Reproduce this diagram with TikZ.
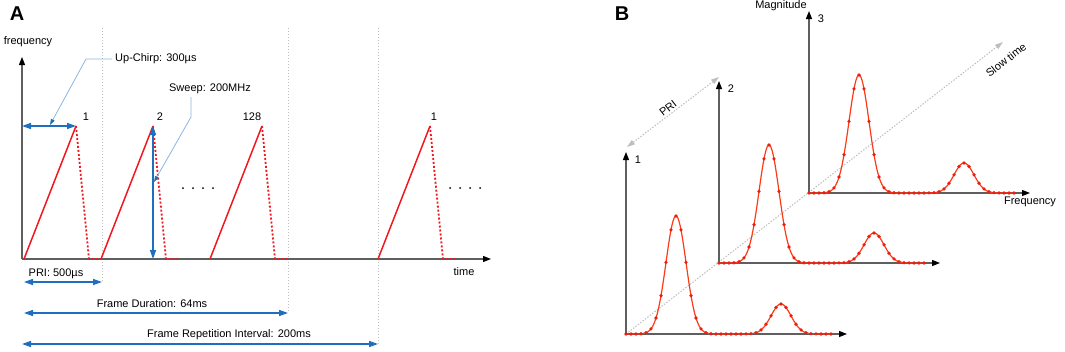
\documentclass[tikz,border=0pt]{standalone}
\usepackage{fontspec}
\setmainfont{Liberation Sans}
\usepackage{xcolor}
\usepackage{tikz}
\usetikzlibrary{arrows.meta,calc}
\definecolor{chirprot}{RGB}{240,24,32}
\definecolor{kurvenrot}{RGB}{252,58,22}
\definecolor{punktrot}{RGB}{235,30,15}
\definecolor{pfeilblau}{RGB}{30,112,190}
\definecolor{hinweisblau}{RGB}{140,182,224}
\definecolor{achsgrau}{RGB}{95,95,95}
\definecolor{hilfsgrau}{RGB}{190,190,190}
% ein Chirp: Anstieg, Abfall und Pause
\newcommand{\Chirp}[2]{%
  \coordinate (#2-a) at (#1,259);
  \coordinate (#2-s) at ($(#2-a)+(52,-133)$);
  \coordinate (#2-f) at ($(#2-a)+(65,0)$);
  \coordinate (#2-e) at ($(#2-a)+(77,0)$);
  \draw[chirp] (#2-a) -- (#2-s);
  \draw[chirp,pause] (#2-s) -- (#2-f) -- (#2-e);}
% ein Spektrum mit Achsen und Abtastpunkten
\newcommand{\Spektrum}[4]{%
  \begin{scope}[shift={(#1,#2)}]
    \coordinate (#4-o) at (0,0);
    \coordinate (#4-y) at (0,-182);
    \coordinate (#4-x) at (221,0);
    \draw[achse] (#4-o) -- (#4-y);
    \draw[achse] (#4-o) -- (#4-x);
    \node (#4-nr) at (12,-174) {#3};
    \draw[kurve] plot[domain=0:205,samples=206] (\x,{-spek(\x)});
    \foreach \p in {0,5,...,205}
      \fill[punktrot] (\p,{-spek(\p)}) circle (1.8pt);
  \end{scope}}

\begin{document}
\begin{tikzpicture}[x=1pt,y=-1pt,
  every node/.style={font=\fontsize{11}{13}\selectfont,inner sep=0pt},
  declare function={spek(\u)=118*exp(max(-12,-0.5*((\u-50)/10)^2))+30*exp(max(-12,-0.5*((\u-155)/10)^2));},
  achse/.style={draw=achsgrau,line width=1.3pt,-{Triangle[length=8pt,width=6pt,color=black]}},
  chirp/.style={draw=chirprot,line width=1.5pt},
  pause/.style={line width=1.8pt,dash pattern=on 2pt off 2pt},
  mass/.style={draw=pfeilblau,line width=1.4pt,{Triangle[length=9pt,width=6pt]}-{Triangle[length=9pt,width=6pt]}},
  hinweis/.style={draw=hinweisblau,line width=0.8pt,-{Triangle[length=6pt,width=4pt,color=pfeilblau]}},
  raster/.style={draw=hilfsgrau,line width=0.8pt,dash pattern=on 1pt off 2pt},
  hilfspfeil/.style={draw=hilfsgrau,line width=1pt,dash pattern=on 1.5pt off 1.5pt,{Triangle[length=8pt,width=5pt]}-{Triangle[length=8pt,width=5pt]}},
  zeitpfeil/.style={hilfspfeil,{}-{Triangle[length=8pt,width=5pt]}},
  kurve/.style={draw=kurvenrot,line width=1.2pt}]
  \useasboundingbox (0,0) rectangle (1065,351);

  % Teil A: Chirp-Folge
  \node (A) at (17,14) {\bfseries\fontsize{20}{24}\selectfont A};
  \node (freq) at (28,42) {frequency};
  \node (zeit) at (464,272) {time};
  % Rasterlinien
  \coordinate (l1o) at (102,28);  \coordinate (l1u) at (102,282);
  \coordinate (l2o) at (288,28);  \coordinate (l2u) at (288,313);
  \coordinate (l3o) at (378,28);  \coordinate (l3u) at (378,344);
  \draw[raster] (l1o) -- (l1u);
  \draw[raster] (l2o) -- (l2u);
  \draw[raster] (l3o) -- (l3u);
  % Achsen
  \coordinate (ursprung) at (22,259);
  \coordinate (fspitze) at (22,57);
  \coordinate (tspitze) at (491,259);
  \draw[achse] (ursprung) -- (fspitze);
  \draw[achse] (ursprung) -- (tspitze);
  % Chirps
  \Chirp{24}{c1}
  \Chirp{101}{c2}
  \Chirp{210}{c128}
  \Chirp{378}{cn}
  \node (n1) at (86,117) {1};
  \node (n2) at (160,117) {2};
  \node (n128) at (252,117) {128};
  \node (nn) at (434,117) {1};
  \foreach \p in {183,193,203,213,450,460,470,480}
    \fill (\p,188) circle (1pt);
  % Up-Chirp und Sweep
  \coordinate (uc-l) at (22,126);
  \draw[mass] (uc-l) -- (c1-s);
  \draw[mass] (c2-s) -- (c2-s |- ursprung);
  \node[anchor=west] (uctext) at (115,59) {Up-Chirp: 300µs};
  \coordinate (uc-knick) at (86,59);
  \coordinate (uc-ziel) at (50,125);
  \draw[hinweis] ($(uctext.west)+(-3,0)$) -- (uc-knick) -- (uc-ziel);
  \node (swtext) at (210,89) {Sweep: 200MHz};
  \coordinate (sw-oben) at (191,97);
  \coordinate (sw-knick) at (191,117);
  \coordinate (sw-ziel) at (154,182);
  \draw[hinweis] (sw-oben) -- (sw-knick) -- (sw-ziel);
  % Zeitintervalle
  \node (pritext) at (56,274) {PRI: 500µs};
  \coordinate (pri-l) at (24,282);
  \draw[mass] (pri-l) -- (l1u);
  \node (fdtext) at (152,304) {Frame Duration: 64ms};
  \coordinate (fd-l) at (24,313);
  \draw[mass] (fd-l) -- (l2u);
  \node (fritext) at (229,335) {Frame Repetition Interval: 200ms};
  \coordinate (fri-l) at (22,344);
  \draw[mass] (fri-l) -- (l3u);

  % Teil B: Spektren ueber der langsamen Zeit
  \node (B) at (622,14) {\bfseries\fontsize{20}{24}\selectfont B};
  \coordinate (slow-a) at (626,334);
  \coordinate (slow-e) at (1003,42);
  \draw[zeitpfeil] (slow-a) -- (slow-e);
  \node[rotate=37.8] (slowtext) at (1006,60) {Slow time};
  \coordinate (pri-u) at (627,147);
  \coordinate (pri-o) at (719,77);
  \draw[hilfspfeil] (pri-u) -- (pri-o);
  \node[rotate=37.8] (pribtext) at (668,108) {PRI};
  \Spektrum{626}{334}{1}{s1}
  \Spektrum{719}{263}{2}{s2}
  \Spektrum{809}{193}{3}{s3}
  \node (magn) at (781,6) {Magnitude};
  \node (frequ) at (1030,202) {Frequency};
\end{tikzpicture}
\end{document}
